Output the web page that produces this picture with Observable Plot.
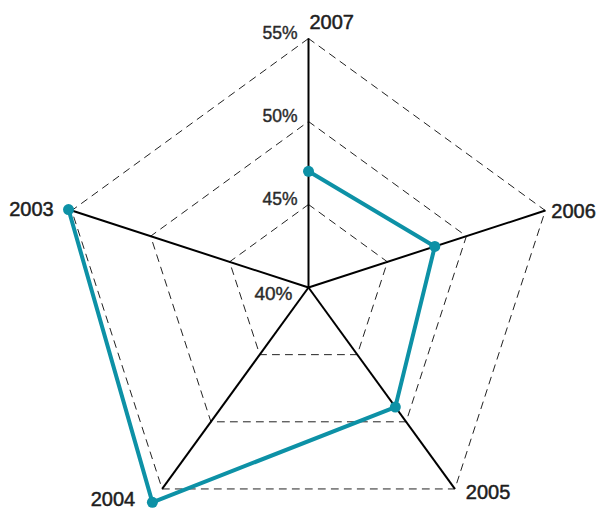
<!DOCTYPE html>
<html><head><meta charset="utf-8">
<script src="https://cdn.jsdelivr.net/npm/d3@7"></script>
<script src="https://cdn.jsdelivr.net/npm/@observablehq/plot@0.6"></script>
<style>body{margin:0;background:#fff}</style>
</head><body><div id="chart"></div>
<script>
const years = ["2007", "2006", "2005", "2004", "2003"];
const shares = [47.0, 48.0, 48.9, 56.0, 55.2];
const ringLevels = [45, 50, 55];
const tickLevels = [40, 45, 50, 55];
const tickLabels = ["40%", "45%", "50%", "55%"];

const r = d3.scaleLinear().domain([40, 55]).range([0, 1]);
const n = years.length;
const ang = i => i * 2 * Math.PI / n;
const px = (v, i) => r(v) * Math.sin(ang(i));
const py = (v, i) => r(v) * Math.cos(ang(i));

const rings = ringLevels.flatMap(level =>
  d3.range(n + 1).map(k => ({level, x: px(level, k % n), y: py(level, k % n)})));
const spokes = years.map((year, i) => ({year, x1: 0, y1: 0, x2: px(55, i), y2: py(55, i)}));
const series = years.map((year, i) => ({year, value: shares[i], x: px(shares[i], i), y: py(shares[i], i)}));
const ticks = tickLevels.map((v, i) => ({label: tickLabels[i], x: 0, y: py(v, 0), v}));

const labelOpts = {
  "2007": {dx: 1, dy: -16, textAnchor: "start"},
  "2006": {dx: 6, dy: 1, textAnchor: "start"},
  "2005": {dx: 11, dy: 4, textAnchor: "start"},
  "2004": {dx: -27, dy: 11, textAnchor: "end"},
  "2003": {dx: -18, dy: -1, textAnchor: "end"}
};
const teal = "#0d91a6";
const ink = "#1e1e1e";

const chart = Plot.plot({
  width: 599,
  height: 510,
  margin: 0,
  style: {fontFamily: "'Liberation Sans', Arial, sans-serif", background: "#fff"},
  x: {domain: [-1, 1], range: [59, 557], axis: null},
  y: {domain: [-1, 1], range: [536, 38], axis: null},
  marks: [
    Plot.line(rings, {x: "x", y: "y", z: "level", stroke: "#222", strokeWidth: 1, strokeDasharray: "7,6"}),
    Plot.link(spokes, {x1: "x1", y1: "y1", x2: "x2", y2: "y2", stroke: "#000", strokeWidth: 2}),
    Plot.line(series, {x: "x", y: "y", stroke: teal, strokeWidth: 4, curve: "linear"}),
    Plot.dot(series, {x: "x", y: "y", r: 5.5, fill: teal}),
    ...years.map((year, i) => Plot.text([spokes[i]], {
      x: "x2", y: "y2", text: () => year, fontSize: 20, fill: ink, stroke: ink, strokeWidth: 0.5,
      lineAnchor: "middle", ...labelOpts[year]
    })),
    Plot.text(ticks.filter(d => d.v > 40), {x: "x", y: "y", text: "label", fontSize: 17.5, fill: "#2a2a2a",
      stroke: "#2a2a2a", strokeWidth: 0.4, textAnchor: "end", lineAnchor: "middle", dx: -11, dy: -5}),
    Plot.text(ticks.filter(d => d.v === 40), {x: "x", y: "y", text: "label", fontSize: 19, fill: "#2a2a2a",
      stroke: "#2a2a2a", strokeWidth: 0.4, textAnchor: "end", lineAnchor: "middle", dx: -16, dy: 6})
  ]
});
document.getElementById("chart").appendChild(chart);
</script>
</body></html>
